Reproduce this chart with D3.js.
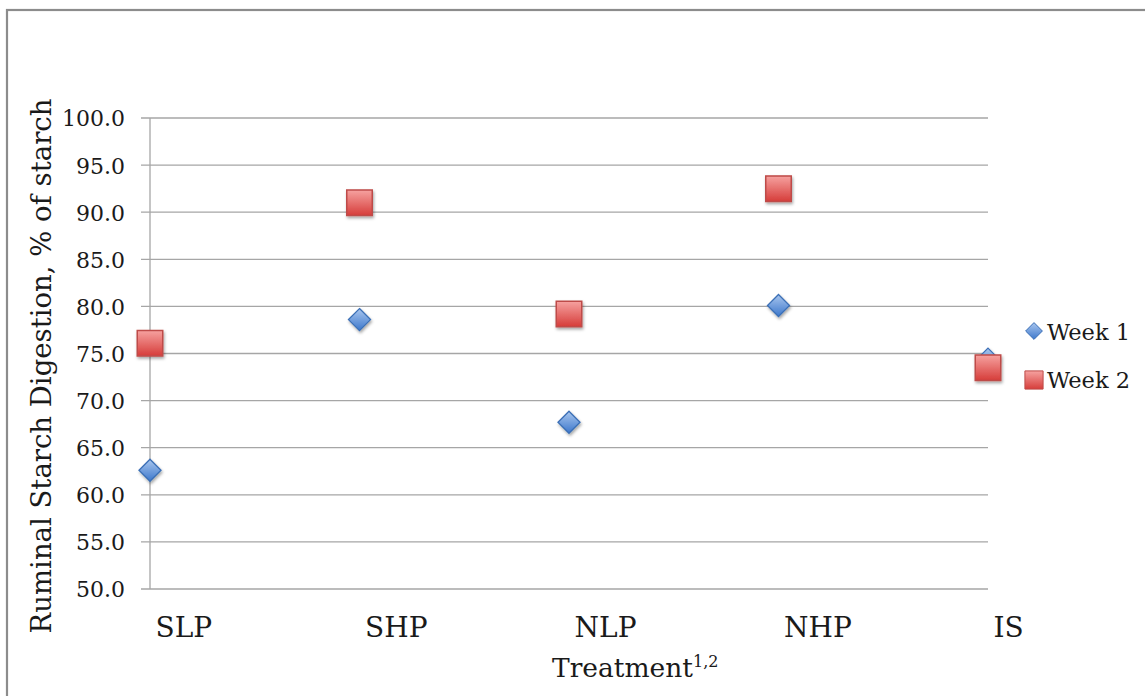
<!DOCTYPE html>
<html><head><meta charset="utf-8">
<script src="https://cdn.jsdelivr.net/npm/d3@7"></script>
<style>
html,body{margin:0;padding:0;background:#fff;}
svg{display:block;}
text{font-family:"DejaVu Serif","Liberation Serif",serif;fill:#1a1a1a;}
</style></head>
<body>
<svg id="chart" width="1145" height="696"></svg>
<script>
const categories = ["SLP","SHP","NLP","NHP","IS"];
const week1 = [62.6, 78.6, 67.7, 80.1, 74.4];
const week2 = [76.1, 91.0, 79.2, 92.5, 73.5];
const seriesNames = ["Week 1","Week 2"];
const yTicks = [50,55,60,65,70,75,80,85,90,95,100];

const svg = d3.select("#chart");
const W = 1145, H = 696;
const m = {left:150, right:157, top:118, bottom:107};

const defs = svg.append("defs");
const gb = defs.append("linearGradient").attr("id","gBlue").attr("x1",0).attr("y1",0).attr("x2",0).attr("y2",1);
gb.append("stop").attr("offset","0%").attr("stop-color","#a9c6ee");
gb.append("stop").attr("offset","100%").attr("stop-color","#3d78cc");
const gr = defs.append("linearGradient").attr("id","gRed").attr("x1",0).attr("y1",0).attr("x2",0).attr("y2",1);
gr.append("stop").attr("offset","0%").attr("stop-color","#f6a2a0");
gr.append("stop").attr("offset","100%").attr("stop-color","#d63d3a");
const sh = defs.append("filter").attr("id","shadow").attr("x","-50%").attr("y","-50%").attr("width","200%").attr("height","200%");
sh.append("feDropShadow").attr("dx",1).attr("dy",2).attr("stdDeviation",1.6).attr("flood-color","#000").attr("flood-opacity",0.35);

// outer border
svg.append("rect").attr("x",7).attr("y",10).attr("width",1150).attr("height",700)
  .attr("fill","none").attr("stroke","#8c8c8c").attr("stroke-width",2.2);

const x = d3.scalePoint().domain(categories).range([m.left, W - m.right]).padding(0);
const y = d3.scaleLinear().domain([50,100]).range([H - m.bottom, m.top]);

// gridlines
svg.append("g").selectAll("line").data(yTicks).join("line")
  .attr("x1", m.left - 9).attr("x2", W - m.right)
  .attr("y1", d => y(d)).attr("y2", d => y(d))
  .attr("stroke","#a6a6a6").attr("stroke-width",1.3);

// y axis line
svg.append("line").attr("x1",m.left).attr("x2",m.left).attr("y1",y(100)).attr("y2",y(50))
  .attr("stroke","#a6a6a6").attr("stroke-width",1.3);

// y tick labels
const yAxis = d3.axisLeft(y).tickValues(yTicks).tickFormat(d3.format(".1f")).tickSize(0).tickPadding(25);
const ya = svg.append("g").attr("transform",`translate(${m.left},0)`).call(yAxis);
ya.select(".domain").remove();
ya.selectAll("text").attr("font-size",22).attr("font-family","DejaVu Serif").attr("fill","#1a1a1a").attr("dy","0.36em");

// x tick labels
const xAxis = d3.axisBottom(x).tickSize(0);
const xa = svg.append("g").attr("transform",`translate(0,${y(50)})`).call(xAxis);
xa.select(".domain").remove();
xa.selectAll("text").attr("font-size",28).attr("font-family","DejaVu Serif").attr("fill","#1a1a1a")
  .attr("text-anchor","start").attr("dx","0.18em").attr("y",48).attr("dy",0);

// axis titles
const xt = svg.append("text").attr("x",552).attr("y",677).attr("text-anchor","start").attr("font-size",26.5);
xt.append("tspan").text("Treatment");
xt.append("tspan").attr("font-size",16).attr("dy","-10").text("1,2");

svg.append("text").attr("transform","translate(51,366) rotate(-90)")
  .attr("text-anchor","middle").attr("font-size",27.5)
  .text("Ruminal Starch Digestion, % of starch");

const diamond = d3.symbol().type(d3.symbolDiamond2).size(310);
const square = d3.symbol().type(d3.symbolSquare).size(650);

// week 1 diamonds
svg.append("g").selectAll("path").data(week1).join("path")
  .attr("d", diamond)
  .attr("transform",(d,i)=>`translate(${x(categories[i])},${y(d)})`)
  .attr("fill","url(#gBlue)").attr("stroke","#3b6fb6").attr("stroke-width",1.3)
  .attr("filter","url(#shadow)");

// week 2 squares
svg.append("g").selectAll("path").data(week2).join("path")
  .attr("d", square)
  .attr("transform",(d,i)=>`translate(${x(categories[i])},${y(d)})`)
  .attr("fill","url(#gRed)").attr("stroke","#be4b48").attr("stroke-width",1.5)
  .attr("filter","url(#shadow)");

// legend
const lg = svg.append("g");
lg.append("path").attr("d", d3.symbol().type(d3.symbolDiamond2).size(180))
  .attr("transform","translate(1034,331)")
  .attr("fill","url(#gBlue)").attr("stroke","#3b6fb6").attr("stroke-width",1);
lg.append("path").attr("d", d3.symbol().type(d3.symbolSquare).size(330))
  .attr("transform","translate(1034,380)")
  .attr("fill","url(#gRed)").attr("stroke","#be4b48").attr("stroke-width",1);
lg.selectAll("text.leg").data(seriesNames).join("text").attr("class","leg")
  .attr("x",1047).attr("y",(d,i)=>340+i*48).attr("font-size",22.5).text(d=>d);
</script>
</body></html>
